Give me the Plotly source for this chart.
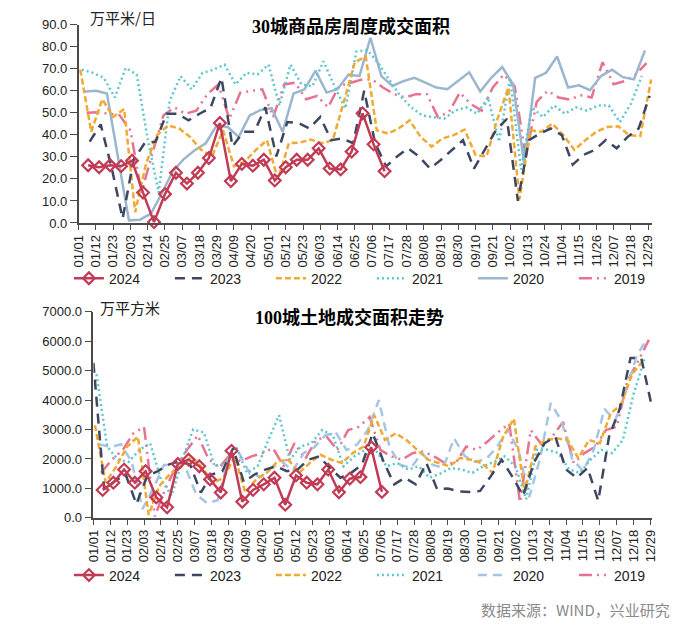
import numpy as np
import pandas as pd
import plotly.graph_objects as go

# ---------------- data ----------------
years = ["2024", "2023", "2022", "2021", "2020", "2019"]

# 30-city weekly commodity housing sales area (万平米/日)
top_2024 = [26.2, 25.3, 26.2, 25.8, 28.3, 13.8, 0.4, 13.1, 22.8, 17.9, 22.8, 29.5, 45.4, 19.0,
            26.8, 26.0, 28.7, 19.3, 25.3, 28.7, 28.7, 33.9, 24.7, 24.3, 32.4, 49.8, 35.7, 23.5]
top_2023 = [36.9, 44.8, 25.0, 2.0, 28.7, 36.2, 36.9, 49.6, 49.6, 46.6, 49.6, 52.2, 65.9, 34.7,
            41.4, 41.4, 52.5, 30.2, 45.8, 45.4, 42.9, 48.1, 37.6, 38.4, 36.2, 60.0, 36.2, 25.7,
            30.2, 33.9, 30.2, 24.7, 28.7, 33.2, 37.6, 24.7, 33.2, 42.1, 47.3, 10.1, 37.6, 40.6,
            42.9, 39.9, 26.5, 31.0, 33.2, 37.6, 33.9, 39.1, 42.9, 57.7]
top_2022 = [69.6, 41.4, 56.2, 48.1, 51.8, 4.9, 27.2, 39.9, 44.3, 42.9, 39.1, 33.2, 30.2, 42.1,
            25.7, 28.0, 33.2, 37.6, 19.8, 36.2, 36.5, 37.9, 36.2, 37.6, 55.0, 73.0, 75.6, 42.1,
            40.6, 42.9, 46.6, 39.1, 34.7, 38.4, 39.9, 42.4, 30.9, 30.2, 47.3, 61.5, 10.9, 42.1,
            41.4, 45.1, 39.9, 33.2, 37.6, 41.4, 43.6, 43.9, 39.9, 39.4, 65.2]
top_2021 = [69.6, 68.2, 65.9, 57.0, 70.4, 67.4, 38.0, 13.8, 55.5, 66.7, 60.7, 68.2, 69.6, 71.9,
            62.9, 68.2, 67.4, 71.9, 53.3, 71.9, 62.9, 62.0, 73.4, 62.2, 52.0, 77.8, 78.6, 72.6,
            65.0, 57.7, 52.5, 48.8, 48.1, 47.3, 51.0, 52.5, 49.6, 57.0, 36.9, 65.9, 24.3, 52.5,
            48.1, 53.3, 49.6, 52.5, 51.0, 53.3, 53.3, 45.8, 54.0, 66.7]
top_2020 = [59.7, 60.0, 58.8, 30.0, 1.2, 1.5, 4.2, 13.5, 23.5, 29.0, 33.0, 36.2, 44.3, 43.6,
            39.1, 48.8, 51.3, 52.1, 41.4, 58.8, 60.7, 69.2, 59.2, 60.7, 67.4, 66.7, 84.1, 66.7,
            62.2, 64.4, 65.9, 63.7, 61.5, 60.7, 64.4, 68.4, 59.7, 65.9, 70.8, 62.9, 27.0, 65.9,
            68.2, 75.6, 61.5, 62.5, 60.3, 66.7, 69.6, 66.2, 65.2, 78.3]
top_2019 = [50.0, 50.3, 49.6, 49.0, 42.0, 13.8, 31.7, 48.8, 52.5, 49.6, 51.0, 58.5, 62.9, 47.3,
            59.2, 60.0, 60.7, 48.1, 62.9, 63.7, 56.2, 57.7, 52.5, 62.2, 63.7, 65.0, 65.2, 61.5,
            58.5, 57.0, 58.5, 58.5, 48.1, 50.3, 59.2, 54.0, 51.0, 61.5, 67.4, 62.0, 30.0, 55.0,
            60.0, 57.0, 56.0, 58.0, 57.0, 73.0, 63.0, 64.4, 67.4, 72.6]

# 100-city land transaction area (万平方米)
bot_2024 = [949, 1194, 1640, 1194, 1585, 692, 357, 1830, 1975, 1752, 1306, 859, 2277, 547,
            949, 1138, 1361, 446, 1440, 1194, 1138, 1640, 870, 1330, 1384, 2399, 882]
bot_2023 = [5268, 971, 1250, 1473, 469, 1417, 1585, 1808, 1920, 1808, 859, 1473, 1585, 2366,
            1216, 1473, 1640, 1752, 1585, 1640, 1975, 2087, 1696, 1361, 1529, 1808, 2868, 1920,
            1138, 1361, 1138, 1864, 971, 993, 900, 880, 915, 1417, 1975, 1400, 748, 1864, 2533,
            2756, 1640, 1361, 1696, 580, 2756, 3705, 5435, 5435, 3761]
bot_2022 = [3147, 1194, 1752, 2422, 2756, 100, 1082, 1500, 1752, 2087, 1696, 1194, 1361, 2087,
            859, 1306, 1529, 1920, 1975, 1529, 1864, 2143, 1975, 1864, 2199, 2422, 3482, 2645,
            2868, 2645, 2310, 1975, 1864, 1752, 2031, 1975, 1864, 1529, 2756, 3370, 859, 2422,
            2645, 2700, 2645, 2031, 2645, 2533, 3538, 3873, 4877, 5324]
bot_2021 = [4877, 2422, 1975, 1900, 2310, 2533, 1306, 748, 2000, 3000, 2900, 1752, 1864, 2422,
            1529, 1752, 2645, 3482, 1975, 2422, 2533, 2980, 2812, 1752, 2087, 2310, 2300, 1752,
            1864, 1640, 1752, 1361, 1500, 1696, 1640, 1529, 1752, 1900, 2087, 1752, 636, 2310,
            2310, 2199, 1640, 1529, 1975, 2310, 2199, 2645, 4207, 5380]
bot_2020 = [2500, 2400, 2500, 1900, 300, 1000, 1800, 1750, 1700, 800, 500, 600, 2000, 2200,
            1500, 1400, 1700, 1900, 1600, 2200, 2400, 2800, 2900, 2300, 2500, 3000, 4000, 2400,
            1800, 1700, 2200, 1800, 1700, 2700, 2100, 1900, 2000, 2400, 3000, 2300, 700, 2000,
            3900, 3300, 2000, 1600, 2300, 3700, 3300, 4300, 5500, 6100]
bot_2019 = [1529, 1975, 2300, 2868, 3091, 50, 1000, 1750, 2310, 2800, 2000, 1700, 2143, 1920,
            2087, 2199, 2366, 1752, 2533, 2000, 2645, 2756, 2300, 2980, 3091, 3426, 2310, 2087,
            1975, 2199, 2254, 2087, 1864, 1864, 2422, 2310, 2600, 2924, 3203, 524, 2980, 2500,
            2756, 3259, 1864, 2199, 2422, 2980, 3091, 4654, 5324, 6049]

# first week-end (day offset from 01/01) of each year's series
top_start = {"2024": 6, "2023": 7, "2022": 1, "2021": 2, "2020": 4, "2019": 5}
bot_start = {"2024": 6, "2023": 0, "2022": 1, "2021": 2, "2020": 4, "2019": 5}

top_vals = dict(zip(years, [top_2024, top_2023, top_2022, top_2021, top_2020, top_2019]))
bot_vals = dict(zip(years, [bot_2024, bot_2023, bot_2022, bot_2021, bot_2020, bot_2019]))

base = pd.Timestamp("2024-01-01")


def week_dates(start, n):
    return base + pd.to_timedelta(start + 7 * np.arange(n), unit="D")


# ---------------- styles ----------------
colors = {"2024": "#C23B55", "2023": "#3D4860", "2022": "#F0A932", "2021": "#5EC6CE",
          "2020": "#9BB6CE", "2019": "#E8728F"}
bot_2020_color = "#A7C5E3"
dashes = {"2024": "solid", "2023": "10px,7px", "2022": "6px,3px", "2021": "2px,3px",
          "2020": "solid", "2019": "13px,5px,2px,5px,2px,5px"}

W, H = 698, 635
OFF = 8  # page body margin offset


def px(x):
    return (x - OFF) / W


def py(y):
    return 1 - (y - OFF) / H


fig = go.Figure()

for panel, vals, starts, xa, ya, leg in [
    ("top", top_vals, top_start, "x", "y", "legend"),
    ("bot", bot_vals, bot_start, "x2", "y2", "legend2"),
]:
    for rank, yr in reversed(list(enumerate(years))):
        v = vals[yr]
        col = colors[yr]
        dash = dashes[yr]
        if panel == "bot" and yr == "2020":
            col = bot_2020_color
            dash = "9px,6px"
        kw = dict(mode="lines")
        if yr == "2024":
            kw = dict(mode="lines+markers",
                      marker=dict(symbol="diamond-open", size=9, color=col,
                                  line=dict(width=2.2, color=col)))
        fig.add_trace(go.Scatter(
            x=week_dates(starts[yr], len(v)), y=v, name=yr,
            line=dict(color=col, width=2.5, dash=dash),
            xaxis=xa, yaxis=ya, legend=leg, legendrank=rank + 1,
            cliponaxis=False, **kw))

tick_font = dict(family="Liberation Sans, Arial, sans-serif", size=13, color="#222222")
axis_common = dict(showline=True, linecolor="#4a4a4a", linewidth=1.5, showgrid=False,
                   zeroline=False, ticks="outside", tickcolor="#4a4a4a", tickwidth=1.2,
                   tickfont=tick_font)
xcommon = dict(axis_common, type="date", tick0="2024-01-01", dtick=11 * 86400000,
               tickformat="%m/%d", tickangle=-90, ticklen=5)

legend_font = dict(family="Liberation Sans, Arial, sans-serif", size=14, color="#222222")
fig.update_layout(
    width=W, height=H, margin=dict(l=0, r=0, t=0, b=0),
    paper_bgcolor="white", plot_bgcolor="white",
    xaxis=dict(xcommon, domain=[px(72), px(657)], anchor="y",
               range=[base, base + pd.Timedelta(hours=365.5 * 24)]),
    yaxis=dict(axis_common, domain=[py(221), py(18)], anchor="x",
               range=[0, 90], dtick=10, tickformat=".1f", ticklen=7),
    xaxis2=dict(xcommon, domain=[px(87), px(657)], anchor="y2",
                range=[base, base + pd.Timedelta(days=364)]),
    yaxis2=dict(axis_common, domain=[py(523), py(312)], anchor="x2",
                range=[0, 7000], dtick=1000, tickformat=".1f", ticklen=7),
    legend=dict(orientation="h", x=px(62), y=py(278), xanchor="left", yanchor="middle",
                entrywidth=56, entrywidthmode="pixels", bgcolor="rgba(0,0,0,0)",
                font=legend_font),
    legend2=dict(orientation="h", x=px(62), y=py(582), xanchor="left", yanchor="middle",
                 entrywidth=56, entrywidthmode="pixels", bgcolor="rgba(0,0,0,0)",
                 font=legend_font),
    showlegend=True,
)

title_font = dict(family="Liberation Serif, Noto Sans CJK SC, serif", size=18, color="#000000",
                  weight="bold")
unit_font = dict(family="Noto Sans CJK SC, sans-serif", size=15, color="#222222")
annotations = [
    dict(text="30城商品房周度成交面积", x=px(350), y=py(20), font=title_font),
    dict(text="100城土地成交面积走势", x=px(348), y=py(318), font=title_font),
    dict(text="万平米/日", x=px(81), y=py(11), xanchor="left", font=unit_font),
    dict(text="万平方米", x=px(92), y=py(308), xanchor="left", font=unit_font),
    dict(text="数据来源：WIND，兴业研究", x=px(677), y=py(617), xanchor="right",
         font=dict(family="Noto Sans CJK SC, sans-serif", size=15, color="#8a8a8a")),
]
for a in annotations:
    a.setdefault("xanchor", "center")
    fig.add_annotation(xref="paper", yref="paper", yanchor="middle", showarrow=False, **a)

fig.write_html("out.html")
